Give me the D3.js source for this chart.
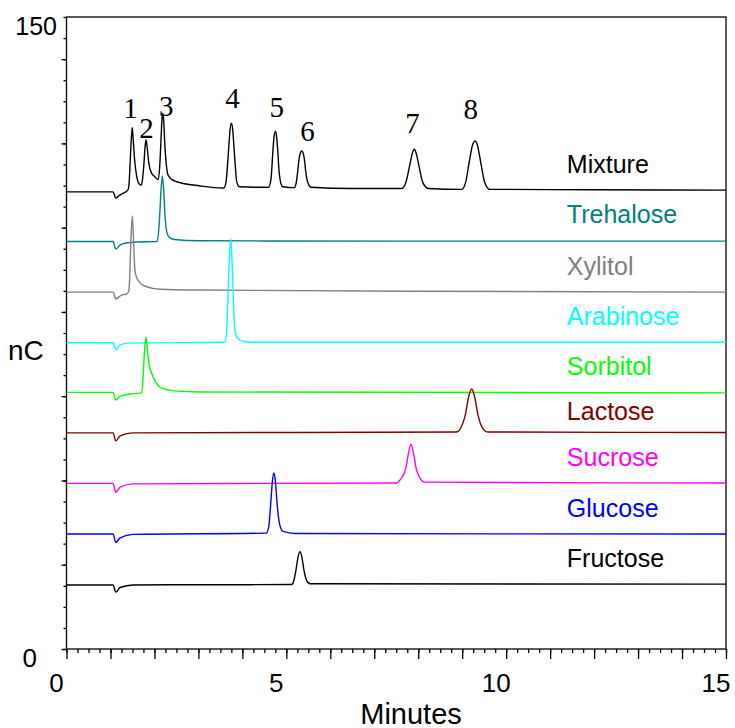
<!DOCTYPE html>
<html>
<head>
<meta charset="utf-8">
<script src="https://cdn.jsdelivr.net/npm/d3@7"></script>
<style>
  body { margin: 0; background: #fff; }
  text { font-family: "Liberation Sans", Arial, sans-serif; }
</style>
</head>
<body>
<svg id="chart" width="735" height="728"></svg>
<script>

// chromatogram traces, [minutes, nC]
var mixture = [[0,108.5],[1.06,108.5],[1.12,107.0],[1.22,107.8],[1.33,108.4],[1.40,109.0],
  [1.42,110],[1.45,116],[1.48,122],[1.496,123.7],[1.51,122],[1.55,116],[1.60,112],[1.66,110.3],[1.70,110.1],
  [1.72,110.8],[1.76,115],[1.79,119.5],[1.808,120.8],[1.83,119.5],[1.87,115.5],[1.93,113],[2.00,112.2],[2.07,111.5],
  [2.09,111.5],[2.12,114.5],[2.15,121],[2.17,125.5],[2.19,127.1],[2.21,125.5],[2.235,120],[2.27,115],[2.31,112.5],
  [2.40,111.4],[2.51,110.9],[3.04,109.9],[3.55,109.4],
  [3.58,109.4],[3.63,111],[3.66,114.5],[3.69,119],[3.72,123.3],[3.75,124.8],[3.78,123.3],[3.81,119],[3.84,114.5],[3.87,111],[3.93,109.7],
  [4.30,109.6],
  [4.60,109.6],[4.65,111.5],[4.67,114],[4.69,117.5],[4.72,121.5],[4.75,122.9],[4.78,121.5],[4.81,117.5],[4.83,114],[4.86,111.3],[4.92,109.7],
  [5.18,109.5],[5.23,111],[5.26,113.5],[5.29,116.3],[5.32,117.8],[5.35,118.2],[5.38,117.8],[5.41,116.3],[5.44,113.5],[5.48,111],[5.56,109.6],
  [6.50,109.3],
  [7.62,109.3],[7.72,110.8],[7.80,114.5],[7.87,117.8],[7.91,118.6],[7.95,117.8],[8.02,114.5],[8.10,110.8],[8.23,109.3],
  [8.99,109.1],[9.08,110.8],[9.15,115],[9.24,119.8],[9.29,120.6],[9.34,119.8],[9.43,115],[9.51,110.8],[9.63,109.1],
  [12,109.0],[15,108.9]];

var trehalose = [[0,96.7],[1.06,96.7],[1.12,94.9],[1.22,95.9],[1.33,96.3],[1.60,96.6],[2.06,96.7],
  [2.09,98.5],[2.12,103],[2.15,109],[2.18,112.3],[2.21,109],[2.24,103],[2.28,99],[2.33,97.8],
  [2.45,97.2],[3.04,96.9],[8,96.8],[15,96.8]];

var xylitol = [[0,84.7],[1.06,84.7],[1.12,83.1],[1.25,84.0],[1.37,84.3],[1.42,85],
  [1.44,89],[1.465,97],[1.496,102.8],[1.525,97],[1.555,90],[1.60,88],[1.64,87.3],[1.79,86.1],
  [2.13,85.4],[3.04,85.2],[8,84.9],[15,84.7]];

var arabinose = [[0,72.7],[1.06,72.7],[1.12,71.0],[1.22,72.2],[1.40,72.6],[3.60,72.8],
  [3.64,75],[3.67,83],[3.70,92],[3.735,97.3],[3.765,92],[3.795,83],[3.825,76.5],[3.87,74],
  [3.95,73.3],[4.17,72.8],[15,72.8]];

var sorbitol = [[0,60.9],[1.06,60.9],[1.12,59.1],[1.22,60.0],[1.51,60.6],[1.71,60.8],
  [1.74,64],[1.77,70],[1.808,74.0],[1.84,71],[1.88,67.5],[1.94,65.4],[2.03,63.3],[2.17,61.9],
  [2.5,61.2],[3.04,61.0],[15,60.8]];

var lactose = [[0,51.3],[1.06,51.3],[1.12,49.4],[1.22,50.6],[1.51,51.3],[8.87,51.5],
  [8.97,52.5],[9.07,55.5],[9.15,60],[9.215,61.7],[9.28,60],[9.36,55.5],[9.46,52.5],[9.59,51.5],
  [15,51.4]];

var sucrose = [[0,39.3],[1.06,39.3],[1.12,37.2],[1.22,38.4],[1.51,39.2],[7.51,39.4],
  [7.60,40.3],[7.72,43],[7.78,46.6],[7.835,48.6],[7.89,46.6],[7.95,43],[8.05,40.4],[8.15,39.6],
  [15,39.4]];

var glucose = [[0,27.3],[1.06,27.3],[1.12,25.3],[1.22,26.4],[1.51,27.2],[4.54,27.5],
  [4.60,29],[4.645,34.5],[4.685,40],[4.719,41.8],[4.75,40],[4.79,34.5],[4.85,29.5],[4.93,27.9],
  [5.20,27.4],[15,27.3]];

var fructose = [[0,15.2],[1.06,15.2],[1.12,13.5],[1.22,14.6],[1.51,15.2],[5.12,15.3],
  [5.17,16.2],[5.22,18.8],[5.27,22],[5.31,23.1],[5.35,22],[5.40,18.8],[5.46,16.3],[5.54,15.5],
  [15,15.4]];

var seriesNames  = ["Mixture","Trehalose","Xylitol","Arabinose","Sorbitol","Lactose","Sucrose","Glucose","Fructose"];
var seriesData   = [mixture, trehalose, xylitol, arabinose, sorbitol, lactose, sucrose, glucose, fructose];
var seriesColors = ["#000000","#008080","#808080","#00ffff","#00ff00","#800000","#ff00ff","#0000ff","#000000"];
var labelValues  = [112.9, 101.0, 88.8, 76.9, 65.0, 54.4, 43.4, 31.4, 19.5];
var labelTime    = 11.38;

// peak numbers on the mixture trace
var peakNumbers = ["1","2","3","4","5","6","7","8"];
var peakTimes   = [1.456, 1.819, 2.270, 3.775, 4.781, 5.481, 7.869, 9.195];
var peakValues  = [128.4, 123.8, 128.9, 130.7, 128.7, 122.9, 124.8, 128.3];

var xTickLabels = [0, 5, 10, 15];
var yTickLabels = [0, 150];


let svg = d3.select("#chart");

let x = d3.scaleLinear().domain([0,15]).range([66.5,726]);
let y = d3.scaleLinear().domain([0,150]).range([649,17]);

let line = d3.line()
    .x(function(d){ return x(d[0]); })
    .y(function(d){ return y(d[1]); })
    .curve(d3.curveMonotoneX);

// frame
svg.append("rect")
    .attr("x", x(0)).attr("y", y(150))
    .attr("width", x(15)-x(0)).attr("height", y(0)-y(150))
    .attr("fill", "none").attr("stroke", "#000").attr("stroke-width", 1.3);

// x axis: minor every quarter minute, major every minute
let gxMinor = svg.append("g").attr("transform", "translate(0," + y(0) + ")")
    .call(d3.axisBottom(x).tickValues(d3.range(0, 15.01, 0.25)).tickSize(4).tickFormat(""));
let gxMajor = svg.append("g").attr("transform", "translate(0," + y(0) + ")")
    .call(d3.axisBottom(x).tickValues(d3.range(0, 16, 1)).tickSize(10).tickFormat(""));

// y axis: minor every 5, major every 20
let gyMinor = svg.append("g").attr("transform", "translate(" + x(0) + ",0)")
    .call(d3.axisLeft(y).tickValues(d3.range(0, 151, 5)).tickSize(3).tickFormat(""));
let gyMajor = svg.append("g").attr("transform", "translate(" + x(0) + ",0)")
    .call(d3.axisLeft(y).tickValues(d3.range(0, 151, 20)).tickSize(5).tickFormat(""));

[gxMinor, gxMajor, gyMinor, gyMajor].forEach(function(g){
    g.select(".domain").remove();
    g.selectAll("line").attr("stroke", "#000").attr("stroke-width", 1.3);
});

// tick labels
svg.append("g").selectAll("text")
    .data(xTickLabels)
    .enter().append("text")
    .attr("x", function(d){ return x(d) - 10; })
    .attr("y", 692)
    .attr("text-anchor", "middle")
    .style("font-size", "26px")
    .text(function(d){ return d; });

svg.append("text")
    .attr("x", x(0) - 9.5).attr("y", y(150) + 18)
    .attr("text-anchor", "end")
    .style("font-size", "25px")
    .text(yTickLabels[1]);
svg.append("text")
    .attr("x", x(0) - 29.5).attr("y", y(0) + 18)
    .attr("text-anchor", "end")
    .style("font-size", "26px")
    .text(yTickLabels[0]);

// axis titles
svg.append("text")
    .attr("x", 411).attr("y", 724)
    .attr("text-anchor", "middle")
    .style("font-size", "29px")
    .text("Minutes");
svg.append("text")
    .attr("x", 8).attr("y", 360)
    .attr("text-anchor", "start")
    .style("font-size", "28px")
    .text("nC");

// traces
svg.append("g").selectAll("path")
    .data(seriesData)
    .enter().append("path")
    .attr("d", line)
    .attr("fill", "none")
    .attr("stroke", function(d,i){ return seriesColors[i]; })
    .attr("stroke-width", 1.4)
    .attr("stroke-linejoin", "round");

// trace names
svg.append("g").selectAll("text")
    .data(seriesNames)
    .enter().append("text")
    .attr("x", x(labelTime))
    .attr("y", function(d,i){ return y(labelValues[i]); })
    .attr("text-anchor", "start")
    .style("fill", function(d,i){ return seriesColors[i]; })
    .style("font-size", "25px")
    .text(function(d){ return d; });

// peak numbers
svg.append("g").selectAll("text")
    .data(peakNumbers)
    .enter().append("text")
    .attr("x", function(d,i){ return x(peakTimes[i]); })
    .attr("y", function(d,i){ return y(peakValues[i]); })
    .attr("dy", ".35em")
    .attr("text-anchor", "middle")
    .style("font-family", "'Liberation Serif', 'Times New Roman', serif")
    .style("font-size", "29px")
    .text(function(d){ return d; });

</script>
</body>
</html>
